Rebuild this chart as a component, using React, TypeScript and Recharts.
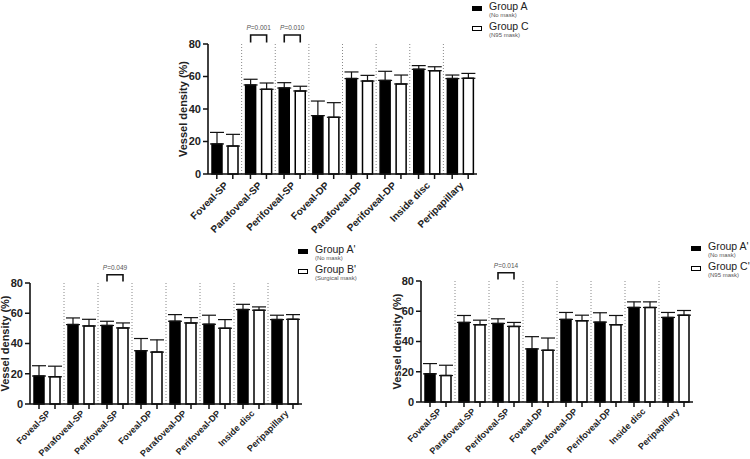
import React from 'react'
import { BarChart, Bar, XAxis, YAxis, CartesianGrid, ErrorBar, LabelList, Legend } from 'recharts'

const regions = ['Foveal-SP', 'Parafoveal-SP', 'Perifoveal-SP', 'Foveal-DP', 'Parafoveal-DP', 'Perifoveal-DP', 'Inside disc', 'Peripapillary']
const yTicks = [0, 20, 40, 60, 80]

// top panel: Group A (no mask) vs Group C (N95 mask)
const topAMean = [18.5, 54.8, 52.9, 35.9, 58.7, 57.6, 64.4, 58.7]
const topASd = [7.1, 3.5, 3.3, 9.0, 4.1, 5.6, 2.3, 2.2]
const topCMean = [17.2, 52.1, 51.1, 34.9, 57.2, 55.4, 63.6, 58.9]
const topCSd = [7.2, 3.9, 2.9, 9.0, 3.5, 5.5, 2.4, 3.0]
const topP = ['', 'P=0.001', 'P=0.010', '', '', '', '', '']

// bottom left: Group A' (no mask) vs Group B' (surgical mask)
const leftAMean = [18.5, 52.5, 51.9, 35.2, 54.7, 52.7, 62.4, 55.8]
const leftASd = [6.8, 4.4, 2.8, 8.1, 4.4, 6.0, 3.5, 2.9]
const leftBMean = [18.0, 51.6, 50.3, 34.3, 53.6, 50.1, 62.0, 56.0]
const leftBSd = [7.0, 4.4, 3.3, 8.1, 3.5, 5.7, 2.2, 3.1]
const leftP = ['', '', 'P=0.049', '', '', '', '', '']

// bottom right: Group A' (no mask) vs Group C' (N95 mask)
const rightAMean = [18.6, 52.6, 51.9, 35.1, 54.6, 52.8, 62.5, 55.9]
const rightASd = [6.8, 4.6, 3.1, 8.1, 4.6, 6.2, 3.7, 3.3]
const rightCMean = [17.5, 51.1, 50.0, 34.2, 53.7, 51.1, 62.5, 57.4]
const rightCSd = [6.8, 3.0, 2.6, 8.1, 3.7, 6.1, 3.7, 3.1]
const rightP = ['', '', 'P=0.014', '', '', '', '', '']

const FONT = '"Liberation Sans", Arial, sans-serif'
const BAR_SIZE = 10
const BAR_GAP = 6

function buildRows(m1: number[], sd1: number[], m2: number[], sd2: number[], p: string[]) {
  return regions.map((name, i) => ({
    name,
    first: m1[i],
    firstErr: [0, sd1[i]],
    second: m2[i],
    secondErr: [0, sd2[i]],
    p: p[i],
  }))
}

function RegionTick(props: any) {
  const { x, y, payload, fontSize = 10, drop = 13 } = props
  const d = (BAR_SIZE + BAR_GAP) / 2
  const tx = x + 4
  const ty = y + drop
  return (
    <g>
      <line x1={x - d} x2={x - d} y1={y} y2={y + 5} stroke="#111" strokeWidth={1.5} />
      <line x1={x + d} x2={x + d} y1={y} y2={y + 5} stroke="#111" strokeWidth={1.5} />
      <text x={tx} y={ty} transform={`rotate(-45 ${tx} ${ty})`} textAnchor="end"
        fontSize={fontSize} fontWeight="bold" fill="#222" fontFamily={FONT}>
        {payload.value}
      </text>
    </g>
  )
}

function makeBracket(rows: any[]) {
  return (props: any) => {
    const vb = props.viewBox || props
    const { index, value } = props
    if (!value) return null
    const x = Number(vb.x), y = Number(vb.y), width = Number(vb.width), height = Number(vb.height)
    const mean = rows[index].first
    const base = y + height
    const ppu = height / mean
    const x1 = x + width / 2
    const x2 = x1 + width + BAR_GAP
    const yTop = base - 85.5 * ppu
    const yLeg = base - 81 * ppu
    const yText = base - 88.5 * ppu
    return (
      <g>
        <path d={`M${x1},${yLeg}V${yTop}H${x2}V${yLeg}`} fill="none" stroke="#111" strokeWidth={1.6} />
        <text x={(x1 + x2) / 2} y={yText} textAnchor="middle" fontSize={6.5} fill="#555" fontFamily={FONT}>
          <tspan fontStyle="italic">P</tspan>{String(value).slice(1)}
        </text>
      </g>
    )
  }
}

function GroupLegend({ payload, notes }: any) {
  return (
    <div style={{ fontFamily: FONT }}>
      {(payload || []).map((item: any, i: number) => (
        <div key={i} style={{ position: 'relative', height: 20, width: 100 }}>
          <div style={{ position: 'absolute', left: 0, top: 6, width: 8, height: 3, background: item.color, border: '1.6px solid #000' }} />
          <div style={{ position: 'absolute', left: 17, top: 0, fontSize: 10.5, lineHeight: '12px', color: '#222', whiteSpace: 'nowrap' }}>{item.value}</div>
          <div style={{ position: 'absolute', left: 17, top: 12, fontSize: 6, lineHeight: '7px', color: '#555', whiteSpace: 'nowrap' }}>{notes[i]}</div>
        </div>
      ))}
    </div>
  )
}

interface PanelProps {
  rows: any[]
  names: string[]
  notes: string[]
  box: { left: number; top: number; width: number; height: number }
  margin: { top: number; right: number; bottom: number; left: number }
  yWidth: number
  xHeight: number
  labelX: number
  legendAt: { left: number; top: number }
  tickFont: number
  tickDrop: number
}

function Panel({ rows, names, notes, box, margin, yWidth, xHeight, labelX, legendAt, tickFont, tickDrop }: PanelProps) {
  return (
    <div style={{ position: 'absolute', left: box.left, top: box.top }}>
      <BarChart width={box.width} height={box.height} data={rows} margin={margin} barGap={BAR_GAP}>
        <CartesianGrid horizontal={false} stroke="#888" strokeDasharray="1 2"
          verticalCoordinatesGenerator={({ offset }: any) => {
            const pts: number[] = []
            for (let i = 1; i < regions.length; i++) pts.push(offset.left + (i * offset.width) / regions.length)
            return pts
          }} />
        <XAxis dataKey="name" interval={0} height={xHeight} tickSize={0} tickMargin={0}
          axisLine={{ stroke: '#111', strokeWidth: 1.6 }} tickLine={false}
          tick={<RegionTick fontSize={tickFont} drop={tickDrop} />} />
        <YAxis domain={[0, 80]} ticks={yTicks} width={yWidth} tickSize={5}
          axisLine={{ stroke: '#111', strokeWidth: 1.6 }} tickLine={{ stroke: '#111', strokeWidth: 1.5 }}
          tick={{ fontSize: 11, fontWeight: 'bold', fill: '#222', fontFamily: FONT }}
          label={{ value: 'Vessel density (%)', angle: -90, position: 'insideLeft', offset: labelX,
            style: { textAnchor: 'middle', fontSize: 11, fontWeight: 'bold', fill: '#222', fontFamily: FONT } }} />
        <Legend layout="vertical" align="center" verticalAlign="middle"
          wrapperStyle={{ left: legendAt.left, top: legendAt.top, width: 'auto' }}
          content={(p: any) => <GroupLegend payload={p.payload} notes={notes} />} />
        <Bar dataKey="first" name={names[0]} fill="#000" stroke="#000" strokeWidth={1.5} barSize={BAR_SIZE} isAnimationActive={false}>
          <ErrorBar dataKey="firstErr" width={7} stroke="#111" strokeWidth={1.2} direction="y" />
          <LabelList dataKey="p" content={makeBracket(rows)} />
        </Bar>
        <Bar dataKey="second" name={names[1]} fill="#fff" stroke="#000" strokeWidth={1.5} barSize={BAR_SIZE} isAnimationActive={false}>
          <ErrorBar dataKey="secondErr" width={7} stroke="#111" strokeWidth={1.2} direction="y" />
        </Bar>
      </BarChart>
    </div>
  )
}

export default function App() {
  return (
    <div style={{ position: 'absolute', left: 0, top: 0, width: 750, height: 459, background: '#fff', fontFamily: FONT, overflow: 'hidden' }}>
      <Panel rows={buildRows(topAMean, topASd, topCMean, topCSd, topP)}
        names={['Group A', 'Group C']} notes={['(No mask)', '(N95 mask)']}
        box={{ left: 150, top: 0, width: 400, height: 245 }}
        margin={{ top: 44, right: 73, bottom: 0, left: 0 }} yWidth={58} xHeight={71} labelX={33}
        legendAt={{ left: 322, top: 0 }} tickFont={10} tickDrop={12} />
      <Panel rows={buildRows(leftAMean, leftASd, leftBMean, leftBSd, leftP)}
        names={["Group A'", "Group B'"]} notes={['(No mask)', '(Surgical mask)']}
        box={{ left: 0, top: 240, width: 400, height: 219 }}
        margin={{ top: 43, right: 98, bottom: 0, left: 0 }} yWidth={30} xHeight={55} labelX={5.5}
        legendAt={{ left: 298, top: 3 }} tickFont={9} tickDrop={10} />
      <Panel rows={buildRows(rightAMean, rightASd, rightCMean, rightCSd, rightP)}
        names={["Group A'", "Group C'"]} notes={['(No mask)', '(N95 mask)']}
        box={{ left: 385, top: 240, width: 365, height: 219 }}
        margin={{ top: 41, right: 57, bottom: 0, left: 0 }} yWidth={36} xHeight={57} labelX={12}
        legendAt={{ left: 306, top: 0 }} tickFont={9} tickDrop={10} />
    </div>
  )
}
